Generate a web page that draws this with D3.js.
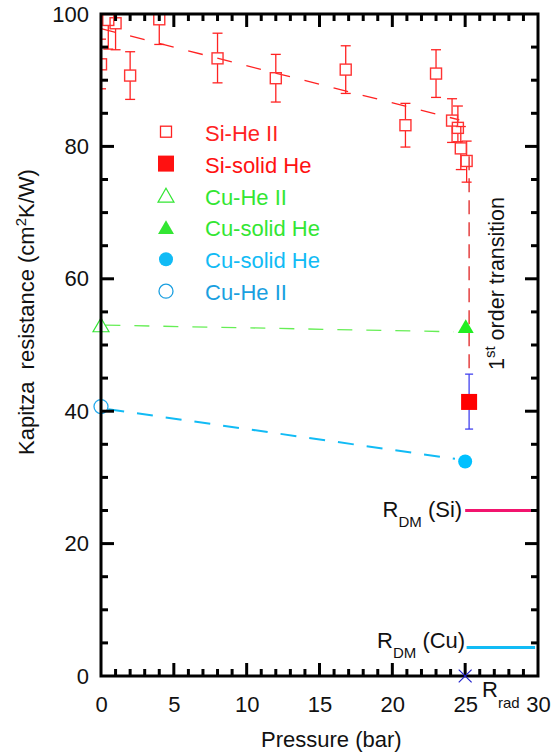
<!DOCTYPE html>
<html>
<head>
<meta charset="utf-8">
<script src="https://cdn.jsdelivr.net/npm/d3@7"></script>
<style>
  body { margin: 0; background: #fff; }
  text { font-family: "Liberation Sans", Arial, sans-serif; }
</style>
</head>
<body>
<div id="chart"></div>
<script>
// Si - He II (open squares with error bars)
const siHeP = [0, 0.5, 1, 2, 4, 8, 12, 16.8, 20.9, 23.0, 24.1, 24.5, 24.7, 25.1];
const siHeR = [92.4, 99.1, 98.6, 90.7, 99.2, 93.3, 90.3, 91.6, 83.2, 91.0, 83.9, 82.8, 79.7, 77.8];
const siHeLo = [88.7, 94.7, 94.6, 87.1, 95.4, 89.6, 86.7, 88.0, 79.9, 87.4, 80.6, 80.7, 76.5, 74.6];
const siHeHi = [96.2, 103.5, 102.6, 94.3, 103.0, 97.1, 93.9, 95.2, 86.5, 94.6, 87.2, 86.1, 83.0, 80.8];

// Si - solid He (filled square, blue error bar)
const siSolid = { p: 25.27, r: 41.4, lo: 37.3, hi: 45.6 };

// Cu points
const cuHeII = { p: 0, r: 53.0 };
const cuSolidTri = { p: 25.04, r: 52.8 };
const cuSolidDot = { p: 25.0, r: 32.4 };
const cuHeIICircle = { p: 0, r: 40.7 };

// trend lines (dashed)
const siTrend = [[0, 97.8], [24.6, 84.0]];
const cuTriTrend = [[0.3, 53.0], [24.2, 52.0]];
const cuDotTrend = [[0.5, 40.3], [24.3, 32.8]];
const transitionLine = [[25.27, 78.5], [25.27, 45.6]];

// reference levels
const rDmSi = 25.0;
const rDmCu = 4.3;
const rRad = { p: 25.0, r: 0 };

const legendItems = [
  { label: "Si-He II", color: "#ff2222", shape: "square", filled: false },
  { label: "Si-solid He", color: "#ff1111", shape: "square", filled: true },
  { label: "Cu-He II", color: "#33e633", shape: "triangle", filled: false },
  { label: "Cu-solid He", color: "#33e633", shape: "triangle", filled: true },
  { label: "Cu-solid He", color: "#11bbf5", shape: "circle", filled: true },
  { label: "Cu-He II", color: "#1a9fe0", shape: "circle", filled: false },
];

const W = 551, H = 755;
const margin = { left: 101, right: 13, top: 14, bottom: 79 };
const red = "#ff2222", green = "#33e633", cyan = "#11bbf5";
const fs = 22, subFs = 15;

const svg = d3.select("#chart").append("svg").attr("width", W).attr("height", H);

const x = d3.scaleLinear().domain([0, 30]).range([margin.left, W - margin.right]);
const y = d3.scaleLinear().domain([0, 100]).range([H - margin.bottom, margin.top]);

svg.append("clipPath").attr("id", "clip").append("rect")
  .attr("x", x(0)).attr("y", y(100)).attr("width", x(30) - x(0)).attr("height", y(0) - y(100));

const plot = svg.append("g").attr("clip-path", "url(#clip)");

// dashed trend lines
const line = d3.line().x(d => x(d[0])).y(d => y(d[1]));
plot.append("path").attr("d", line(siTrend)).attr("fill", "none")
  .attr("stroke", red).attr("stroke-width", 1.3).attr("stroke-dasharray", "15,15");
plot.append("path").attr("d", line(cuTriTrend)).attr("fill", "none")
  .attr("stroke", "#66ee55").attr("stroke-width", 1.3).attr("stroke-dasharray", "15,14");
plot.append("path").attr("d", line(cuDotTrend)).attr("fill", "none")
  .attr("stroke", cyan).attr("stroke-width", 2).attr("stroke-dasharray", "16,13");
plot.append("path").attr("d", line(transitionLine)).attr("fill", "none")
  .attr("stroke", "#dd1111").attr("stroke-width", 1.2).attr("stroke-dasharray", "14,8");

// R_DM levels
plot.append("line").attr("x1", x(25)).attr("x2", x(30)).attr("y1", y(rDmSi)).attr("y2", y(rDmSi))
  .attr("stroke", "#f2146e").attr("stroke-width", 3);
plot.append("line").attr("x1", x(25.1)).attr("x2", x(29.8)).attr("y1", y(rDmCu)).attr("y2", y(rDmCu))
  .attr("stroke", "#11bbf5").attr("stroke-width", 3);

// error bars Si-He II (drawn outside the open squares)
const cap = 5, half = 5.5;
siHeP.forEach((p, i) => {
  const g = plot.append("g").attr("stroke", red).attr("stroke-width", 1.3);
  const cx = x(p), cy = y(siHeR[i]);
  g.append("line").attr("x1", cx).attr("x2", cx).attr("y1", y(siHeLo[i])).attr("y2", cy + half);
  g.append("line").attr("x1", cx).attr("x2", cx).attr("y1", cy - half).attr("y2", y(siHeHi[i]));
  g.append("line").attr("x1", cx - cap).attr("x2", cx + cap).attr("y1", y(siHeLo[i])).attr("y2", y(siHeLo[i]));
  g.append("line").attr("x1", cx - cap).attr("x2", cx + cap).attr("y1", y(siHeHi[i])).attr("y2", y(siHeHi[i]));
});
// squares
siHeP.forEach((p, i) => {
  plot.append("rect").attr("x", x(p) - half).attr("y", y(siHeR[i]) - half)
    .attr("width", 2 * half).attr("height", 2 * half).attr("fill", "none")
    .attr("stroke", "#ff3333").attr("stroke-width", 1.4);
});

// Si solid He
const eb = svg.append("g").attr("stroke", "#3333ee").attr("stroke-width", 1.2);
eb.append("line").attr("x1", x(siSolid.p)).attr("x2", x(siSolid.p)).attr("y1", y(siSolid.lo)).attr("y2", y(siSolid.hi));
eb.append("line").attr("x1", x(siSolid.p) - 4).attr("x2", x(siSolid.p) + 4).attr("y1", y(siSolid.lo)).attr("y2", y(siSolid.lo));
eb.append("line").attr("x1", x(siSolid.p) - 4).attr("x2", x(siSolid.p) + 4).attr("y1", y(siSolid.hi)).attr("y2", y(siSolid.hi));
svg.append("rect").attr("x", x(siSolid.p) - 8).attr("y", y(siSolid.r) - 8)
  .attr("width", 16).attr("height", 16).attr("fill", "#ff0000");

const tri = d3.symbol().type(d3.symbolTriangle).size(110);
svg.append("path").attr("d", tri()).attr("transform", `translate(${x(cuHeII.p)},${y(cuHeII.r) + 2})`)
  .attr("fill", "#fff").attr("stroke", green).attr("stroke-width", 1.2);
svg.append("path").attr("d", tri()).attr("transform", `translate(${x(cuSolidTri.p)},${y(cuSolidTri.r) + 2})`)
  .attr("fill", "#22ee22");
svg.append("circle").attr("cx", x(cuSolidDot.p)).attr("cy", y(cuSolidDot.r)).attr("r", 7).attr("fill", "#00c0ff");
svg.append("circle").attr("cx", x(cuHeIICircle.p)).attr("cy", y(cuHeIICircle.r)).attr("r", 7)
  .attr("fill", "#fff").attr("stroke", "#22aaee").attr("stroke-width", 1.3);

// axes with inward ticks on all four sides
const axisG = svg.append("g").attr("stroke", "#000");
const xMinor = d3.range(0, 31, 1), yMinor = d3.range(0, 101, 5);
xMinor.forEach(v => {
  const len = v % 5 === 0 ? 13 : 7;
  if (v === 0 || v === 30) return;
  axisG.append("line").attr("x1", x(v)).attr("x2", x(v)).attr("y1", y(0)).attr("y2", y(0) - len).attr("stroke-width", 3);
  axisG.append("line").attr("x1", x(v)).attr("x2", x(v)).attr("y1", y(100)).attr("y2", y(100) + len).attr("stroke-width", 3);
});
yMinor.forEach(v => {
  const len = v % 20 === 0 ? 13 : 7;
  if (v === 0 || v === 100) return;
  axisG.append("line").attr("x1", x(0)).attr("x2", x(0) + len).attr("y1", y(v)).attr("y2", y(v)).attr("stroke-width", 3);
  axisG.append("line").attr("x1", x(30)).attr("x2", x(30) - len).attr("y1", y(v)).attr("y2", y(v)).attr("stroke-width", 3);
});
axisG.append("rect").attr("x", x(0)).attr("y", y(100)).attr("width", x(30) - x(0)).attr("height", y(0) - y(100))
  .attr("fill", "none").attr("stroke-width", 3);

// tick labels
const xAxis = d3.axisBottom(x).tickValues(d3.range(0, 31, 5)).tickSize(0).tickPadding(20);
svg.append("g").attr("transform", `translate(0,${y(0)})`).call(xAxis)
  .call(g => g.select(".domain").remove())
  .selectAll("text").attr("font-size", fs).attr("font-family", "Liberation Sans, Arial, sans-serif").attr("fill", "#111");
const yAxis = d3.axisLeft(y).tickValues(d3.range(0, 101, 20)).tickSize(0).tickPadding(12);
svg.append("g").attr("transform", `translate(${x(0)},0)`).call(yAxis)
  .call(g => g.select(".domain").remove())
  .selectAll("text").attr("font-size", fs).attr("font-family", "Liberation Sans, Arial, sans-serif").attr("fill", "#111");

// axis titles
svg.append("text").attr("x", 261).attr("y", 747)
  .attr("font-size", fs).attr("fill", "#111").text("Pressure (bar)");
const yt = svg.append("text").attr("transform", `translate(34,455) rotate(-90)`)
  .attr("font-size", fs).attr("fill", "#111").attr("xml:space", "preserve");
yt.append("tspan").text("Kapitza  resistance (cm");
yt.append("tspan").attr("font-size", subFs).attr("dy", -8).text("2");
yt.append("tspan").attr("dy", 8).text("K/W)");

// legend
const lg = svg.append("g");
legendItems.forEach((d, i) => {
  const cy = 131.7 + i * 31.9, cx = 166;
  if (d.shape === "square") {
    const s = d.filled ? 16 : 11;
    lg.append("rect").attr("x", cx - s / 2).attr("y", cy - s / 2).attr("width", s).attr("height", s)
      .attr("fill", d.filled ? d.color : "#fff").attr("stroke", d.filled ? "none" : d.color).attr("stroke-width", 1.3);
  } else if (d.shape === "triangle") {
    lg.append("path").attr("d", tri()).attr("transform", `translate(${cx},${cy + 2})`)
      .attr("fill", d.filled ? d.color : "#fff").attr("stroke", d.filled ? "none" : d.color).attr("stroke-width", 1.2);
  } else {
    lg.append("circle").attr("cx", cx).attr("cy", cy).attr("r", 7)
      .attr("fill", d.filled ? d.color : "#fff").attr("stroke", d.filled ? "none" : d.color).attr("stroke-width", 1.3);
  }
  lg.append("text").attr("x", 205).attr("y", cy + 9).attr("font-size", fs).attr("fill", d.color).text(d.label);
});

// annotations
function subLabel(xEnd, yBase, main, sub, rest) {
  const t = svg.append("text").attr("x", xEnd).attr("y", yBase).attr("text-anchor", "end")
    .attr("font-size", fs).attr("fill", "#111").attr("xml:space", "preserve");
  t.append("tspan").text(main);
  t.append("tspan").attr("font-size", subFs).attr("dy", 10).text(sub);
  t.append("tspan").attr("dy", -10).text(rest);
}
subLabel(x(25) - 3, y(rDmSi) + 6.5, "R", "DM", " (Si)");
subLabel(x(25), y(rDmCu), "R", "DM", " (Cu)");

svg.append("path").attr("d", d3.symbol().type(d3.symbolX).size(110)())
  .attr("transform", `translate(${x(rRad.p)},${y(rRad.r)})`).attr("stroke", "#2222cc").attr("stroke-width", 1.2);
const rr = svg.append("text").attr("x", 482).attr("y", 697).attr("font-size", fs).attr("fill", "#111");
rr.append("tspan").text("R");
rr.append("tspan").attr("font-size", subFs).attr("dy", 11).text("rad");

const tt = svg.append("text").attr("transform", `translate(${x(25) + 38.5},370) rotate(-90)`)
  .attr("font-size", 21.5).attr("fill", "#111").attr("xml:space", "preserve");
tt.append("tspan").text("1");
tt.append("tspan").attr("font-size", subFs).attr("dy", -9).text("st");
tt.append("tspan").attr("dy", 9).text(" order transition");
</script>
</body>
</html>
